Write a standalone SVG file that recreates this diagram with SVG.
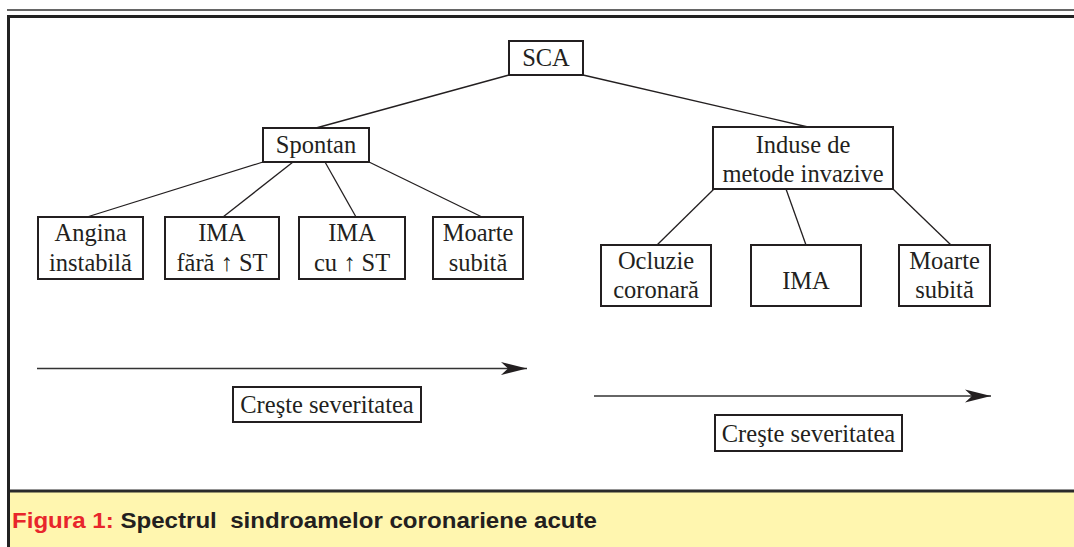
<svg xmlns="http://www.w3.org/2000/svg" width="1074" height="547" viewBox="0 0 1074 547">
<defs>
<style>
.box{fill:#fff;stroke:#231F20;stroke-width:2}
.t{font-family:"Liberation Serif","Times New Roman",serif;font-size:24.5px;fill:#231F20;text-anchor:middle}
.con line{stroke:#231F20;stroke-width:1.3}
.cap{font-family:"Liberation Sans",Arial,sans-serif;font-weight:bold;font-size:22.5px;white-space:pre}
</style>
<marker id="ah" markerUnits="userSpaceOnUse" markerWidth="28" markerHeight="16" refX="26" refY="7" orient="auto">
<path d="M0,0.5 L26,7 L0,13.5 L7,7 Z" fill="#231F20"/>
</marker>
</defs>
<rect width="1074" height="547" fill="#fff"/>
<line x1="7" y1="10" x2="1074" y2="10" stroke="#666" stroke-width="2"/>
<line x1="7" y1="16.5" x2="1074" y2="16.5" stroke="#222" stroke-width="3"/>
<rect x="8" y="492" width="1066" height="55" fill="#FFF6AF"/>
<line x1="8" y1="491" x2="1074" y2="491" stroke="#2a2a2a" stroke-width="3"/>
<line x1="8.5" y1="15" x2="8.5" y2="547" stroke="#222" stroke-width="3"/>
<text class="cap" x="12" y="528" xml:space="preserve" textLength="585" lengthAdjust="spacingAndGlyphs"><tspan fill="#E8262B">Figura 1:</tspan><tspan fill="#231F20"> Spectrul  sindroamelor coronariene acute</tspan></text>

<g id="connectors" class="con">
<line x1="509" y1="75" x2="316" y2="128"/>
<line x1="583" y1="75" x2="808" y2="127"/>
<line x1="263" y1="162" x2="87" y2="217"/>
<line x1="293" y1="162" x2="223" y2="217"/>
<line x1="325" y1="162" x2="356" y2="217"/>
<line x1="369" y1="162" x2="482" y2="217"/>
<line x1="714" y1="189" x2="657" y2="245"/>
<line x1="786" y1="189" x2="806" y2="245"/>
<line x1="893" y1="189" x2="951" y2="245"/>
<line x1="37" y1="368.5" x2="527" y2="368.5" marker-end="url(#ah)" style="stroke:#333;stroke-width:1.5"/>
<line x1="594" y1="396" x2="991" y2="396" marker-end="url(#ah)" style="stroke:#333;stroke-width:1.5"/>
</g>

<g id="sca"><rect class="box" x="509" y="41" width="74" height="34"/><text class="t" x="546" y="66">SCA</text></g>
<g id="spontan"><rect class="box" x="263" y="128" width="106" height="34"/><text class="t" x="316" y="153">Spontan</text></g>
<g id="induse"><rect class="box" x="713" y="127" width="180" height="62"/><text class="t" x="803" y="153">Induse de</text><text class="t" x="803" y="182">metode invazive</text></g>

<g id="angina"><rect class="box" x="38" y="217" width="105" height="62"/><text class="t" x="90.5" y="241">Angina</text><text class="t" x="90.5" y="271">instabilă</text></g>
<g id="ima-fara"><rect class="box" x="165" y="217" width="114" height="62"/><text class="t" x="222" y="241">IMA</text><text class="t" x="222" y="271">fără ↑ ST</text></g>
<g id="ima-cu"><rect class="box" x="299" y="217" width="106" height="62"/><text class="t" x="352" y="241">IMA</text><text class="t" x="352" y="271">cu ↑ ST</text></g>
<g id="moarte1"><rect class="box" x="433" y="217" width="90" height="62"/><text class="t" x="478" y="241">Moarte</text><text class="t" x="478" y="271">subită</text></g>

<g id="ocluzie"><rect class="box" x="601" y="245" width="110" height="61"/><text class="t" x="656" y="269">Ocluzie</text><text class="t" x="656" y="298">coronară</text></g>
<g id="ima"><rect class="box" x="751" y="245" width="110" height="61"/><text class="t" x="806" y="289">IMA</text></g>
<g id="moarte2"><rect class="box" x="899" y="245" width="91" height="61"/><text class="t" x="944.5" y="269">Moarte</text><text class="t" x="944.5" y="298">subită</text></g>

<g id="sev1"><rect class="box" x="233" y="387" width="188" height="35"/><text class="t" x="327" y="413">Creşte severitatea</text></g>
<g id="sev2"><rect class="box" x="715" y="415" width="187" height="36"/><text class="t" x="808.5" y="442">Creşte severitatea</text></g>
</svg>
